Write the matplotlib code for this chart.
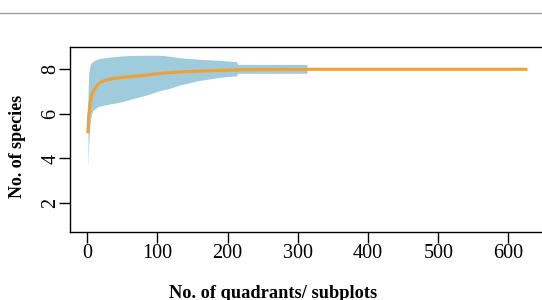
import numpy as np
import matplotlib
matplotlib.use('Agg')
import matplotlib.pyplot as plt
from matplotlib.lines import Line2D

# sample sizes (number of quadrants) and the accumulation curve
quadrants = [1, 2, 4, 6, 8, 10, 14, 18, 25, 37, 50, 61, 85, 104, 118, 132,
             160, 189, 213, 214, 260, 313, 314, 400, 500, 625]
richness = [5.2, 5.9, 6.5, 6.8, 7.0, 7.1, 7.28, 7.4, 7.5, 7.58, 7.63, 7.67,
            7.74, 7.82, 7.85, 7.88, 7.92, 7.95, 7.97, 7.98, 7.99, 8.0, 8.0,
            8.0, 8.0, 8.0]
nan = np.nan
lower = [3.65, 4.6, 5.6, 6.0, 6.15, 6.2, 6.3, 6.35, 6.4, 6.47, 6.55, 6.65,
         6.85, 7.05, 7.15, 7.3, 7.5, 7.64, 7.71, 7.82, 7.82, 7.82, nan,
         nan, nan, nan]
upper = [6.8, 7.8, 8.2, 8.3, 8.35, 8.4, 8.45, 8.49, 8.52, 8.56, 8.6, 8.62,
         8.63, 8.63, 8.58, 8.52, 8.45, 8.4, 8.34, 8.22, 8.22, 8.22, nan,
         nan, nan, nan]

x_ticks = [0, 100, 200, 300, 400, 500, 600]
y_ticks = [2, 4, 6, 8]

plt.rcParams['font.family'] = ['Liberation Serif', 'DejaVu Serif']

fig = plt.figure(figsize=(5.42, 3.0), dpi=100)
ax = fig.add_axes([70 / 542, 1 - 232 / 300, 473.6 / 542, 185 / 300])

ax.fill_between(quadrants, lower, upper, color='#9fccdc', linewidth=0)
ax.plot(quadrants, richness, color='#f0a035', linewidth=2.2)

ax.set_xlim(-24.6, 650)
ax.set_ylim(0.7, 9.0)
ax.set_xticks(x_ticks)
ax.set_yticks(y_ticks)
ax.tick_params(direction='out', length=8, width=1, labelsize=14.5)
ax.tick_params(axis='x', pad=0.5)
ax.tick_params(axis='y', labelrotation=90, pad=-1)
for lab in ax.get_yticklabels():
    lab.set_verticalalignment('center')
for sp in ax.spines.values():
    sp.set_linewidth(1)

# axis titles placed as in the original
fig.text(273 / 542, 1 - 293 / 300, 'No. of quadrants/ subplots', ha='center',
         va='center', fontsize=13.2, fontweight='bold')
fig.text(18 / 542, 1 - 146 / 300, 'No. of species', ha='center', va='center',
         rotation=90, fontsize=13, fontweight='bold')

# thin grey rule at the top
fig.add_artist(Line2D([0, 1], [1 - 12.7 / 300] * 2, color='#a0a0a0',
                      linewidth=1, transform=fig.transFigure))

fig.savefig('out.png', dpi=100)
